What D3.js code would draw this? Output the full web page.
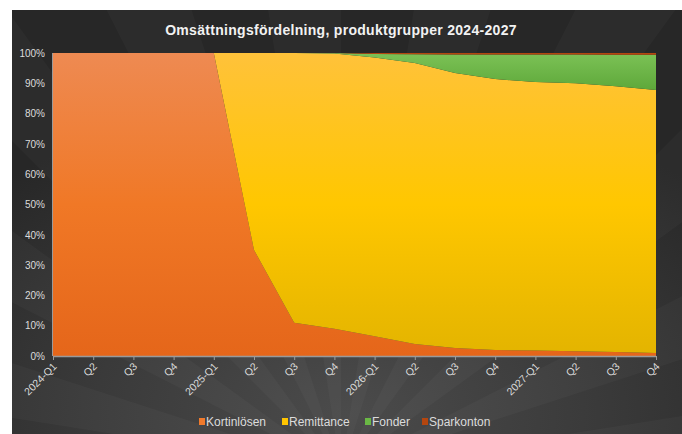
<!DOCTYPE html>
<html><head><meta charset="utf-8">
<script src="https://cdn.jsdelivr.net/npm/d3@7"></script>
<style>body{margin:0;background:#fff;}svg{display:block;}</style>
</head><body>
<script>
const categories = ["2024-Q1","Q2","Q3","Q4","2025-Q1","Q2","Q3","Q4","2026-Q1","Q2","Q3","Q4","2027-Q1","Q2","Q3","Q4"];
const seriesNames = ["Kortinlösen","Remittance","Fonder","Sparkonton"];
const kortinlosen = [100,100,100,100,100,35,11,9,6.5,4,2.6,2,1.8,1.6,1.3,1];
const remittance  = [0,0,0,0,0,65,89,90.8,92,92.7,90.8,89.4,88.6,88.4,87.7,86.8];
const fonder      = [0,0,0,0,0,0,0,0.2,1.2,2.9,6.1,8.1,9.1,9.5,10.4,11.6];
const sparkonton  = [0,0,0,0,0,0,0,0,0.3,0.4,0.5,0.5,0.5,0.5,0.6,0.6];
const yTicks = [0,10,20,30,40,50,60,70,80,90,100];

const W=682,H=434;
const svg=d3.select("body").append("svg").attr("width",W).attr("height",H);
const defs=svg.append("defs");
const bg=defs.append("radialGradient").attr("id","bg").attr("cx","0.5").attr("cy","0.95").attr("r","0.75");
bg.append("stop").attr("offset","0").attr("stop-color","#4b4b4b");
bg.append("stop").attr("offset","0.5").attr("stop-color","#3a3a3a");
bg.append("stop").attr("offset","1").attr("stop-color","#272727");
svg.append("rect").attr("x",12).attr("y",10).attr("width",W-12).attr("height",H-10).attr("fill","url(#bg)");
// faint rays
const rays=svg.append("g").attr("opacity",0.022);
for(let i=0;i<20;i++){
  const a0=Math.PI*(i/10), a1=a0+Math.PI/20, cx=341, cy=470, R=800;
  rays.append("path").attr("d",`M${cx},${cy}L${cx+R*Math.cos(a0)},${cy-R*Math.sin(a0)}L${cx+R*Math.cos(a1)},${cy-R*Math.sin(a1)}Z`).attr("fill","#fff");
}

function vgrad(id,stops){const g=defs.append("linearGradient").attr("id",id).attr("x1",0).attr("x2",0).attr("gradientUnits","userSpaceOnUse").attr("y1",53).attr("y2",356);
 stops.forEach(s=>g.append("stop").attr("offset",s[0]).attr("stop-color",s[1]));}
vgrad("gK",[[0,"#ee8a52"],[0.5,"#f07826"],[1,"#e5661a"]]);
vgrad("gR",[[0,"#ffc23a"],[0.5,"#ffc700"],[1,"#e3b400"]]);
const gF=defs.append("linearGradient").attr("id","gF").attr("x1",0).attr("y1",0).attr("x2",0).attr("y2",1);
gF.append("stop").attr("offset",0).attr("stop-color","#7cc256");gF.append("stop").attr("offset",1).attr("stop-color","#5ea83a");

const m={l:53,r:656,t:53,b:356};
const x=d3.scalePoint().domain(d3.range(categories.length)).range([m.l,m.r]);
const y=d3.scaleLinear().domain([0,100]).range([m.b,m.t]);

const rows=categories.map((c,i)=>({i,"Kortinlösen":kortinlosen[i],"Remittance":remittance[i],"Fonder":fonder[i],"Sparkonton":sparkonton[i]}));
const stack=d3.stack().keys(seriesNames)(rows);
const fills=["url(#gK)","url(#gR)","url(#gF)","#b4460f"];
const area=d3.area().x(d=>x(d.data.i)).y0(d=>y(d[0])).y1(d=>y(d[1]));
svg.append("g").selectAll("path").data(stack).join("path").attr("d",area).attr("fill",(d,i)=>fills[i]);

// axes
svg.append("line").attr("x1",m.l).attr("x2",m.r).attr("y1",m.b+0.5).attr("y2",m.b+0.5).attr("stroke","#9a9a9a").attr("stroke-width",1.5);
svg.append("line").attr("x1",m.l-0.5).attr("x2",m.l-0.5).attr("y1",m.t).attr("y2",m.b).attr("stroke","#9a9a9a").attr("stroke-width",1);
const xa=svg.append("g").attr("transform",`translate(0,${m.b})`)
  .call(d3.axisBottom(x).tickSize(4).tickFormat(i=>categories[i]));
xa.select(".domain").remove();
xa.selectAll(".tick line").attr("stroke","#9a9a9a");
xa.selectAll(".tick text").attr("fill","#dcdcdc").style("font-family","Liberation Sans, Arial, sans-serif").style("font-size","10.5px")
  .attr("text-anchor","end").attr("dy",0).attr("y",0).attr("transform","translate(4,11) rotate(-45)");

const ya=svg.append("g").attr("transform",`translate(${m.l},0)`)
  .call(d3.axisLeft(y).tickValues(yTicks).tickSize(0).tickPadding(8).tickFormat(d=>d+"%"));
ya.select(".domain").remove();
ya.selectAll(".tick text").attr("fill","#dcdcdc").style("font-family","Liberation Sans, Arial, sans-serif").style("font-size","10px");

svg.append("text").attr("x",341).attr("y",35).attr("text-anchor","middle").attr("fill","#f2f2f2")
  .style("font-family","Liberation Sans, Arial, sans-serif").style("font-weight","bold").style("font-size","14px")
  .style("letter-spacing","0.3px")
  .text("Omsättningsfördelning, produktgrupper 2024-2027");

// legend
const legColors=["#f07a2c","#ffc400","#6ab845","#b4460f"];
const legX=[199,282,365,422];
const lg=svg.append("g");
seriesNames.forEach((n,i)=>{
  lg.append("rect").attr("x",legX[i]).attr("y",418).attr("width",6).attr("height",7).attr("fill",legColors[i]);
  lg.append("text").attr("x",legX[i]+7).attr("y",426).attr("fill","#dcdcdc")
    .style("font-family","Liberation Sans, Arial, sans-serif").style("font-size","12px").text(n);
});
</script>
</body></html>
